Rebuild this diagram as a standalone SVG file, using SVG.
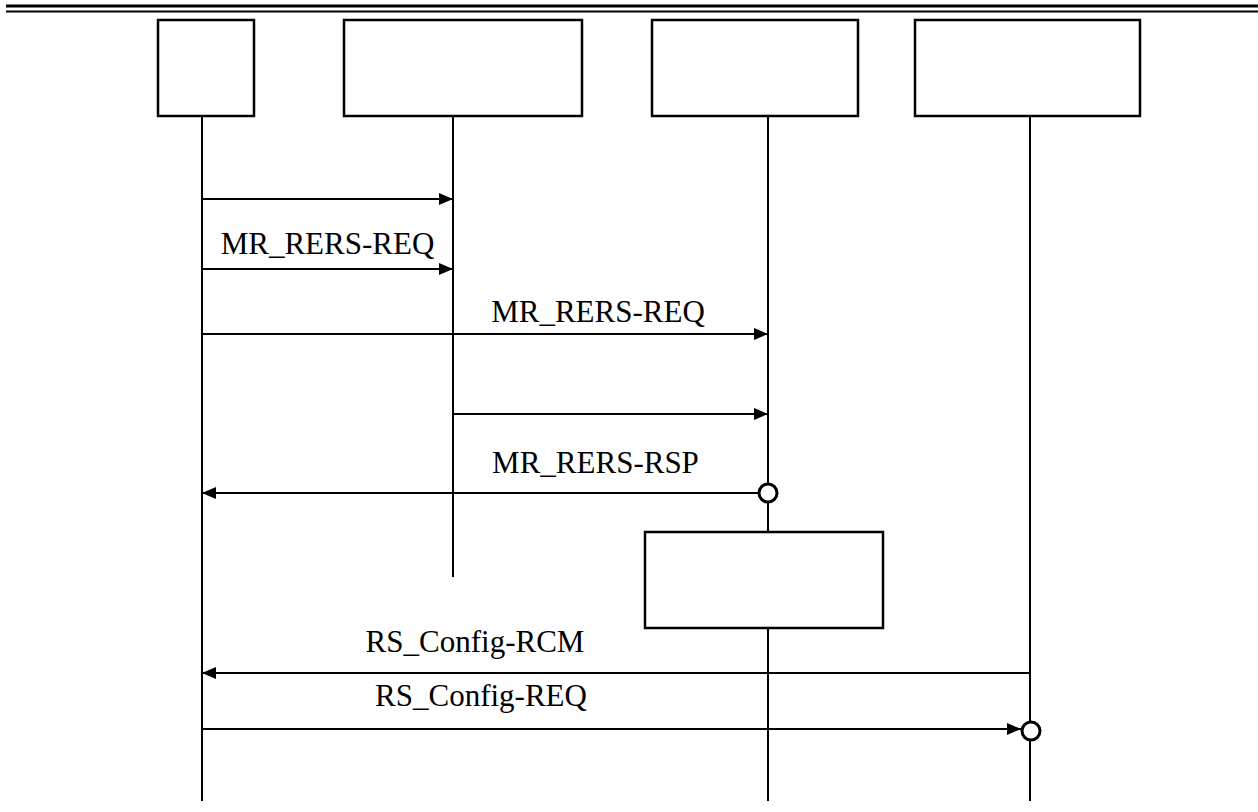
<svg xmlns="http://www.w3.org/2000/svg" width="1258" height="812" viewBox="0 0 1258 812">
<defs>
<style>
.box{fill:#fff;stroke:#000;stroke-width:2.5}
.life{stroke:#000;stroke-width:2;fill:none}
.msg{stroke:#000;stroke-width:2;fill:none}
.end{fill:#fff;stroke:#000;stroke-width:3}
.lbl{font-family:"Liberation Serif","Times New Roman",serif;font-size:31px;fill:#000;text-anchor:middle}
</style>
<marker id="arr" viewBox="0 0 14 12" refX="14" refY="6" markerWidth="14" markerHeight="12" markerUnits="userSpaceOnUse" orient="auto">
<path d="M0,0 L14,6 L0,12 Z" fill="#000"/>
</marker>
</defs>
<rect width="1258" height="812" fill="#fff"/>
<g id="header">
<line x1="6" y1="6" x2="1258" y2="6" stroke="#000" stroke-width="3"/>
<line x1="6" y1="11.5" x2="1258" y2="11.5" stroke="#000" stroke-width="2"/>
</g>
<g id="lifelines">
<line class="life" x1="202" y1="116" x2="202" y2="801"/>
<line class="life" x1="453" y1="116" x2="453" y2="577"/>
<line class="life" x1="768" y1="116" x2="768" y2="532"/>
<line class="life" x1="768" y1="628" x2="768" y2="801"/>
<line class="life" x1="1030" y1="116" x2="1030" y2="801"/>
</g>
<g id="node1"><rect class="box" x="158" y="20" width="96" height="96"/></g>
<g id="node2"><rect class="box" x="344" y="20" width="238" height="96"/></g>
<g id="node3"><rect class="box" x="652" y="20" width="206" height="96"/></g>
<g id="node4"><rect class="box" x="915" y="20" width="225" height="96"/></g>
<g id="node5"><rect class="box" x="645" y="532" width="238" height="96"/></g>
<g id="connectors">
<line class="msg" x1="202" y1="199" x2="453" y2="199" marker-end="url(#arr)"/>
<line class="msg" x1="202" y1="269" x2="453" y2="269" marker-end="url(#arr)"/>
<line class="msg" x1="202" y1="334" x2="768" y2="334" marker-end="url(#arr)"/>
<line class="msg" x1="453" y1="414" x2="768" y2="414" marker-end="url(#arr)"/>
<line class="msg" x1="759" y1="493" x2="202" y2="493" marker-end="url(#arr)"/>
<circle class="end" cx="768" cy="493" r="9"/>
<line class="msg" x1="1030" y1="673" x2="202" y2="673" marker-end="url(#arr)"/>
<line class="msg" x1="202" y1="729" x2="1021" y2="729" marker-end="url(#arr)"/>
<circle class="end" cx="1031" cy="731" r="9"/>
</g>
<g id="labels">
<text class="lbl" x="327.5" y="254">MR_RERS-REQ</text>
<text class="lbl" x="598" y="322">MR_RERS-REQ</text>
<text class="lbl" x="595.5" y="473">MR_RERS-RSP</text>
<text class="lbl" x="475" y="652">RS_Config-RCM</text>
<text class="lbl" x="481" y="706">RS_Config-REQ</text>
</g>
</svg>
